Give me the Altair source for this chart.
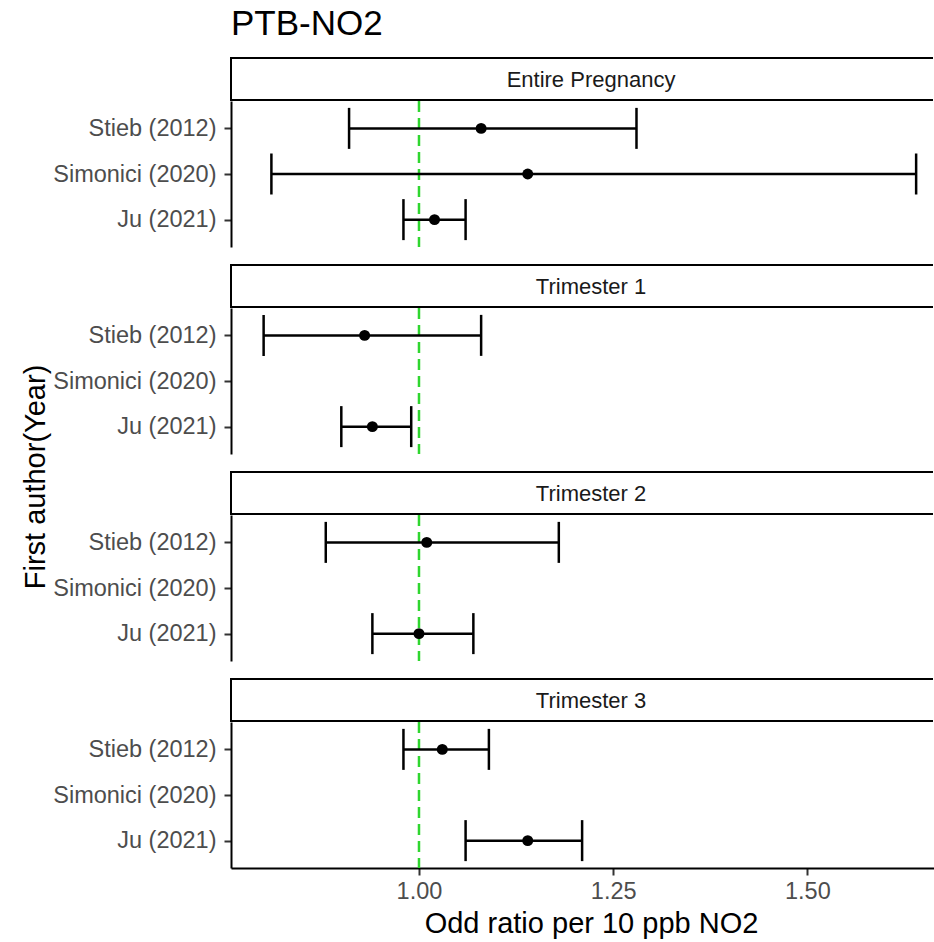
import altair as alt
import pandas as pd

TITLE = "PTB-NO2"
X_TITLE = "Odd ratio per 10 ppb NO2"
Y_TITLE = "First author(Year)"
PERIODS = ["Entire Pregnancy", "Trimester 1", "Trimester 2", "Trimester 3"]
STUDIES = ["Stieb (2012)", "Simonici (2020)", "Ju (2021)"]

ROW_PERIOD = ["Entire Pregnancy", "Entire Pregnancy", "Entire Pregnancy",
              "Trimester 1", "Trimester 1",
              "Trimester 2", "Trimester 2",
              "Trimester 3", "Trimester 3"]
ROW_STUDY = ["Stieb (2012)", "Simonici (2020)", "Ju (2021)",
             "Stieb (2012)", "Ju (2021)",
             "Stieb (2012)", "Ju (2021)",
             "Stieb (2012)", "Ju (2021)"]
OR = [1.08, 1.14, 1.02, 0.93, 0.94, 1.01, 1.00, 1.03, 1.14]
LOWER = [0.91, 0.81, 0.98, 0.80, 0.90, 0.88, 0.94, 0.98, 1.06]
UPPER = [1.28, 1.64, 1.06, 1.08, 0.99, 1.18, 1.07, 1.09, 1.21]
X_TICKS = [1.00, 1.25, 1.50]
REF_LINE = [1.0]
X_DOMAIN = [0.758, 1.663]

FONT = "Liberation Sans"
GREEN = "#2fd62f"
W = 703
PANEL_H = 146
GAP = 17
STRIP_H = 44
LW = 2.5

df = pd.DataFrame({"period": ROW_PERIOD, "study": ROW_STUDY,
                   "or": OR, "lo": LOWER, "hi": UPPER})
ref_df = pd.DataFrame({"ref": REF_LINE})

xscale = alt.Scale(domain=X_DOMAIN, nice=False, zero=False)
yscale = alt.Scale(type="point", domain=STUDIES, padding=0.6)

yaxis = alt.Axis(title=None, domainColor="black", domainWidth=2,
                 tickColor="#333333", tickWidth=2, tickSize=7, labelPadding=8,
                 labelFont=FONT, labelFontSize=23.5, labelColor="#4d4d4d",
                 grid=False, labelLimit=400, minExtent=180, maxExtent=180)


def make_xaxis(last):
    if not last:
        return None
    return alt.Axis(values=X_TICKS, format=".2f", title=X_TITLE,
                    titleFont=FONT, titleFontSize=29, titleColor="black",
                    titleFontWeight="normal", titlePadding=7, titleX=360,
                    domainColor="black", domainWidth=2,
                    tickColor="#333333", tickWidth=2, tickSize=7,
                    labelPadding=4, labelFont=FONT, labelFontSize=23.5,
                    labelColor="#4d4d4d", grid=False, labelFlush=False)


def panel(p, last):
    xaxis = make_xaxis(last)
    base = alt.Chart(df).transform_filter(alt.datum.period == p)
    vline = alt.Chart(ref_df).mark_rule(
        color=GREEN, strokeDash=[11, 6], strokeWidth=2.5
    ).encode(x=alt.X("ref:Q", scale=xscale, axis=xaxis))
    bar = base.mark_rule(color="black", strokeWidth=LW).encode(
        x=alt.X("lo:Q", scale=xscale, axis=xaxis),
        x2="hi:Q",
        y=alt.Y("study:N", scale=yscale, axis=yaxis),
    )
    cap_lo = base.mark_tick(color="black", opacity=1, thickness=LW, size=41,
                            orient="vertical").encode(
        x=alt.X("lo:Q", scale=xscale, axis=xaxis),
        y=alt.Y("study:N", scale=yscale, axis=yaxis),
    )
    cap_hi = base.mark_tick(color="black", opacity=1, thickness=LW, size=41,
                            orient="vertical").encode(
        x=alt.X("hi:Q", scale=xscale, axis=xaxis),
        y=alt.Y("study:N", scale=yscale, axis=yaxis),
    )
    pts = base.mark_circle(color="black", opacity=1, size=120).encode(
        x=alt.X("or:Q", scale=xscale, axis=xaxis),
        y=alt.Y("study:N", scale=yscale, axis=yaxis),
    )
    return alt.layer(vline, bar, cap_lo, cap_hi, pts).properties(width=W, height=PANEL_H)


def strip(p):
    sdf = pd.DataFrame({"label": [p]})
    b = alt.Chart(sdf)
    top = b.mark_rule(color="black", strokeWidth=2).encode(
        x=alt.value(0), x2=alt.value(W - 1), y=alt.value(GAP + 1))
    bottom = b.mark_rule(color="black", strokeWidth=2).encode(
        x=alt.value(0), x2=alt.value(W - 1), y=alt.value(GAP + STRIP_H - 1))
    left = b.mark_rule(color="black", strokeWidth=2).encode(
        x=alt.value(0), y=alt.value(GAP), y2=alt.value(GAP + STRIP_H))
    txt = b.mark_text(font=FONT, fontSize=22, color="#1a1a1a",
                      align="center", baseline="middle").encode(
        x=alt.value(360), y=alt.value(GAP + STRIP_H / 2 + 1), text="label:N")
    return alt.layer(top, bottom, left, txt).properties(width=W, height=GAP + STRIP_H)


title_chart = alt.Chart(pd.DataFrame({"t": [TITLE]})).mark_text(
    font=FONT, fontSize=35, color="black", align="left", baseline="alphabetic"
).encode(x=alt.value(0), y=alt.value(35), text="t:N").properties(width=W, height=40)

items = [title_chart]
for i, p in enumerate(PERIODS):
    items.append(strip(p))
    items.append(panel(p, i == len(PERIODS) - 1))

right = alt.vconcat(*items, spacing=0, bounds="flush")

ytitle = alt.Chart(pd.DataFrame({"t": [Y_TITLE]})).mark_text(
    font=FONT, fontSize=29, color="black", angle=270,
    align="center", baseline="middle"
).encode(x=alt.value(36), y=alt.value(477), text="t:N").properties(width=47, height=860)

chart = alt.hconcat(ytitle, right, spacing=0).properties(
    padding=0, background="white"
).configure_view(strokeWidth=0)

chart.save("out.html", embed_options={"renderer": "svg", "actions": False})
